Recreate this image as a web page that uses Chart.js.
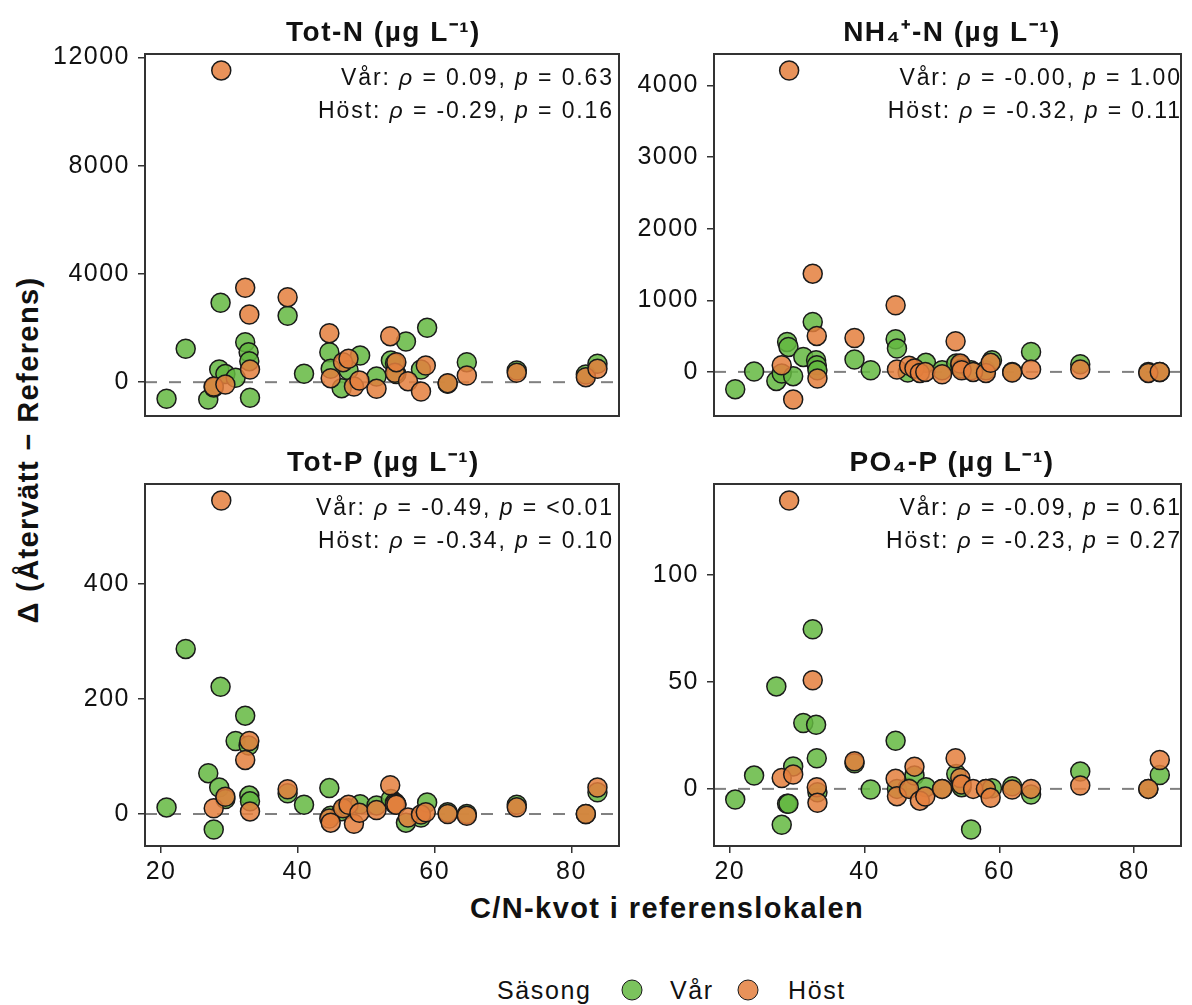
<!DOCTYPE html>
<html lang="sv">
<head>
<meta charset="UTF-8">
<title>Δ (Återvätt − Referens) mot C/N-kvot i referenslokalen</title>
<script src="https://cdn.jsdelivr.net/npm/chart.js@4.4.6/dist/chart.umd.min.js"></script>
<style>
  *, *::before, *::after { box-sizing: border-box; margin: 0; padding: 0; }
  body {
    width: 1192px;
    height: 1005px;
    position: relative;
    overflow: hidden;
    background: #fff;
    color: #111;
    font-family: "Liberation Sans", Arial, sans-serif;
  }
  canvas { position: absolute; display: block; }
  .title {
    position: absolute;
    font-weight: bold;
    font-size: 28px;
    letter-spacing: 1.5px;
    white-space: nowrap;
    transform: translate(-50%, -50%);
  }
  .stats {
    position: absolute;
    font-size: 23px;
    line-height: 33px;
    letter-spacing: 1.9px;
    text-align: right;
    white-space: nowrap;
    transform: translateX(-100%);
  }
  .axis-title {
    position: absolute;
    font-weight: bold;
    font-size: 29px;
    letter-spacing: 1.4px;
    white-space: nowrap;
    transform: translate(-50%, -50%);
  }
  .axis-title.y { transform: translate(-50%, -50%) rotate(-90deg); }
  .legend {
    position: absolute;
    top: 990px;
    font-size: 25px;
    letter-spacing: 1.6px;
    white-space: nowrap;
    transform: translateY(-50%);
  }
  .swatch {
    position: absolute;
    top: 990px;
    width: 21px;
    height: 21px;
    border-radius: 50%;
    border: 1.5px solid #1a1a1a;
    transform: translate(-50%, -50%);
  }
</style>
</head>
<body>

<div class="axis-title y" style="left:28px; top:450px">Δ (Återvätt − Referens)</div>
<div class="axis-title" style="left:667px; top:908px">C/N-kvot i referenslokalen</div>

<div class="legend" style="left:497px">Säsong</div>
<div class="swatch" style="left:632px; background:rgba(100,185,65,0.85)"></div>
<div class="legend" style="left:670px">Vår</div>
<div class="swatch" style="left:748px; background:rgba(228,127,61,0.85)"></div>
<div class="legend" style="left:788px">Höst</div>

<script>
// C/N ratio at the reference site, one value per sampled site
const cnVar  = [20.8, 23.6, 26.9, 27.7, 28.5, 28.7, 29.4, 30.9, 32.3, 32.8, 32.9, 33.0,
                38.5, 40.9, 44.6, 44.8, 46.4, 47.4, 49.1, 51.5, 53.6, 54.2, 54.4, 55.8,
                58.0, 58.9, 61.9, 64.7, 72.0, 82.1, 83.8];
const cnHost = [27.7, 28.8, 29.4, 32.3, 32.9, 33.0, 38.5, 44.6, 44.8, 46.6, 47.4, 48.2,
                49.0, 51.5, 53.5, 54.2, 54.4, 56.1, 58.0, 58.7, 61.9, 64.7, 72.0, 82.1, 83.8];

// Δ (rewetted − reference), same order as the C/N arrays
const totNVar  = [-614, 1235, -640, -200, 470, 2935, 300, 163, 1479, 1109, 776, -577,
                  2455, 310, 1109, 495, -222, 450, 987, 211, 802, 700, 300, 1505,
                  470, 2011, -61, 740, 432, 284, 679];
const totNHost = [-160, 11523, -85, 3490, 2503, 470, 3142, 1812, 148, 740, 865, -160,
                  63, -246, 1700, 347, 740, 37, -345, 617, -37, 247, 347, 185, 495];

const nh4Var  = [-241, 5, -126, -23, 419, 349, -60, 209, 698, 163, 93, 23,
                 173, 23, 456, 326, -10, 50, 126, 23, 116, 93, 47, 23,
                 23, 163, 0, 279, 107, 0, 0];
const nh4Host = [93, 4209, -386, 1372, 502, -93, 474, 930, 33, 86, 47, -14,
                 0, -33, 428, 116, 23, 0, -14, 126, -9, 33, 33, -14, 0];

const totPVar  = [11.5, 287, 71, -27, 46, 221, 26, 127, 171, 119, 32, 22,
                  36, 16, 45, -3, 5, 10, 17, 15, 26, 20, 17, -15,
                  -6, 20, 3, 0, 16, 0, 37.7];
const totPHost = [10, 545, 30, 94, 127, 4.5, 43, -8, -15, 10, 16, -17,
                  2, 7, 50, 17, 16, -6, -1, 3, 0, -3, 11.6, 0, 46];

const po4Var  = [-5.0, 6.2, 47.9, -16.8, -7.0, -7.0, 10.5, 30.8, 74.6, 30.0, 14.3, -1.6,
                 12.0, -0.3, 22.5, 0, 0.5, 6.2, 0.8, 0, 7.0, 2.0, 0.8, -19.0,
                 0, 0.3, 1.2, -2.6, 8.1, 0, 6.5];
const po4Host = [5.1, 134.8, 6.7, 50.8, 0.8, -6.5, 12.9, 4.7, -3.4, 0, 10.4, -5.5,
                 -3.6, 0, 14.3, 5.1, 2.0, 0, 0, -4.2, -0.3, 0, 1.6, 0, 13.5];

// Axis ticks and labels
const xTicks     = [20, 40, 60, 80];
const yTicksTotN = [0, 4000, 8000, 12000];
const yTicksNH4  = [0, 1000, 2000, 3000, 4000];
const yTicksTotP = [0, 200, 400];
const yTicksPO4  = [0, 50, 100];

const panelTitles = ['Tot-N (µg L⁻¹)', 'NH₄⁺-N (µg L⁻¹)', 'Tot-P (µg L⁻¹)', 'PO₄-P (µg L⁻¹)'];
// Spearman rho / p per season
const rhoVar  = ['0.09', '-0.00', '-0.49', '-0.09'];
const pVar    = ['0.63', '1.00', '<0.01', '0.61'];
const rhoHost = ['-0.29', '-0.32', '-0.34', '-0.23'];
const pHost   = ['0.16', '0.11', '0.10', '0.27'];

// ── Styling ──────────────────────────────────────────────────────────────────

const VAR_FILL  = 'rgba(100,185,65,0.85)';
const HOST_FILL = 'rgba(228,127,61,0.85)';
const EDGE      = '#1a1a1a';
const FONT      = '"Liberation Sans", Arial, sans-serif';
const X_RANGE   = [17.65, 86.95];

const panels = [
  { varY: totNVar, hostY: totNHost, yTicks: yTicksTotN, yRange: [-1250, 12130], left: 0,   top: 0,   w: 630, h: 430, axisW: 145, padR: 8, bottomAxis: false },
  { varY: nh4Var,  hostY: nh4Host,  yTicks: yTicksNH4,  yRange: [-616, 4439],   left: 630, top: 0,   w: 562, h: 430, axisW: 84,  padR: 2, bottomAxis: false },
  { varY: totPVar, hostY: totPHost, yTicks: yTicksTotP, yRange: [-55.6, 573.6], left: 0,   top: 430, w: 630, h: 470, axisW: 145, padR: 8, bottomAxis: true },
  { varY: po4Var,  hostY: po4Host,  yTicks: yTicksPO4,  yRange: [-26.7, 142.5], left: 630, top: 430, w: 562, h: 470, axisW: 84,  padR: 2, bottomAxis: true },
];

// zero reference line under the points, panel frame on top
const panelDeco = {
  id: 'panelDeco',
  beforeDraw(chart) {
    chart.ctx.letterSpacing = '1.5px';
  },
  beforeDatasetsDraw(chart) {
    const { ctx, chartArea: a, scales: { y } } = chart;
    const y0 = y.getPixelForValue(0);
    ctx.save();
    ctx.strokeStyle = '#808080';
    ctx.lineWidth = 2;
    ctx.setLineDash([12, 12]);
    ctx.beginPath();
    ctx.moveTo(a.left, y0);
    ctx.lineTo(a.right, y0);
    ctx.stroke();
    ctx.restore();
  },
  afterDatasetsDraw(chart) {
    const { ctx, chartArea: a } = chart;
    ctx.save();
    ctx.strokeStyle = '#333';
    ctx.lineWidth = 2;
    ctx.strokeRect(a.left, a.top, a.right - a.left, a.bottom - a.top);
    ctx.restore();
  },
};

const tickGrid = { drawOnChartArea: false, drawTicks: true, tickLength: 7, color: '#333', lineWidth: 1.5 };
const tickFont = { family: FONT, size: 25 };

panels.forEach((p, i) => {
  const canvas = document.createElement('canvas');
  canvas.width = p.w;
  canvas.height = p.h;
  canvas.style.left = p.left + 'px';
  canvas.style.top = p.top + 'px';
  canvas.style.width = p.w + 'px';
  canvas.style.height = p.h + 'px';
  document.body.appendChild(canvas);

  new Chart(canvas, {
    type: 'scatter',
    data: {
      datasets: [
        {
          label: 'Vår',
          data: cnVar.map((x, k) => ({ x, y: p.varY[k] })),
          backgroundColor: VAR_FILL,
          borderColor: EDGE,
          borderWidth: 1.5,
          pointRadius: 9.5,
          order: 2,
        },
        {
          label: 'Höst',
          data: cnHost.map((x, k) => ({ x, y: p.hostY[k] })),
          backgroundColor: HOST_FILL,
          borderColor: EDGE,
          borderWidth: 1.5,
          pointRadius: 9.5,
          order: 1,
        },
      ],
    },
    options: {
      responsive: false,
      animation: false,
      events: [],
      layout: { padding: { left: 0, right: p.padR, top: 54, bottom: p.bottomAxis ? 0 : 14 } },
      plugins: { legend: { display: false }, tooltip: { enabled: false } },
      scales: {
        x: {
          type: 'linear',
          min: X_RANGE[0],
          max: X_RANGE[1],
          display: p.bottomAxis,
          afterBuildTicks: s => { s.ticks = xTicks.map(v => ({ value: v })); },
          afterFit: s => {
            if (p.bottomAxis) s.height = 54;
            s.paddingLeft = 0;
            s.paddingRight = 0;
          },
          grid: tickGrid,
          border: { display: false },
          ticks: { padding: 4, font: tickFont, color: '#111', maxRotation: 0, autoSkip: false, callback: v => String(v) },
        },
        y: {
          type: 'linear',
          min: p.yRange[0],
          max: p.yRange[1],
          afterBuildTicks: s => { s.ticks = p.yTicks.map(v => ({ value: v })); },
          afterFit: s => { s.width = p.axisW; s.paddingTop = 0; s.paddingBottom = 0; },
          grid: tickGrid,
          border: { display: false },
          ticks: { padding: 8, font: tickFont, color: '#111', autoSkip: false, callback: v => String(v) },
        },
      },
    },
    plugins: [panelDeco],
  });

  // titles and correlation text, placed from the plot area
  const areaLeft = p.left + p.axisW;
  const areaRight = p.left + p.w - p.padR;
  const areaTop = p.top + 54;

  const t = document.createElement('div');
  t.className = 'title';
  t.textContent = panelTitles[i];
  t.style.left = ((areaLeft + areaRight) / 2) + 'px';
  t.style.top = (areaTop - 24) + 'px';
  document.body.appendChild(t);

  const s = document.createElement('div');
  s.className = 'stats';
  s.style.left = (areaRight - 8) + 'px';
  s.style.top = (areaTop + 7) + 'px';
  s.innerHTML =
    `Vår: <i>ρ</i> = ${rhoVar[i]}, <i>p</i> = ${pVar[i]}<br>` +
    `Höst: <i>ρ</i> = ${rhoHost[i]}, <i>p</i> = ${pHost[i]}`;
  document.body.appendChild(s);
});
</script>
</body>
</html>
